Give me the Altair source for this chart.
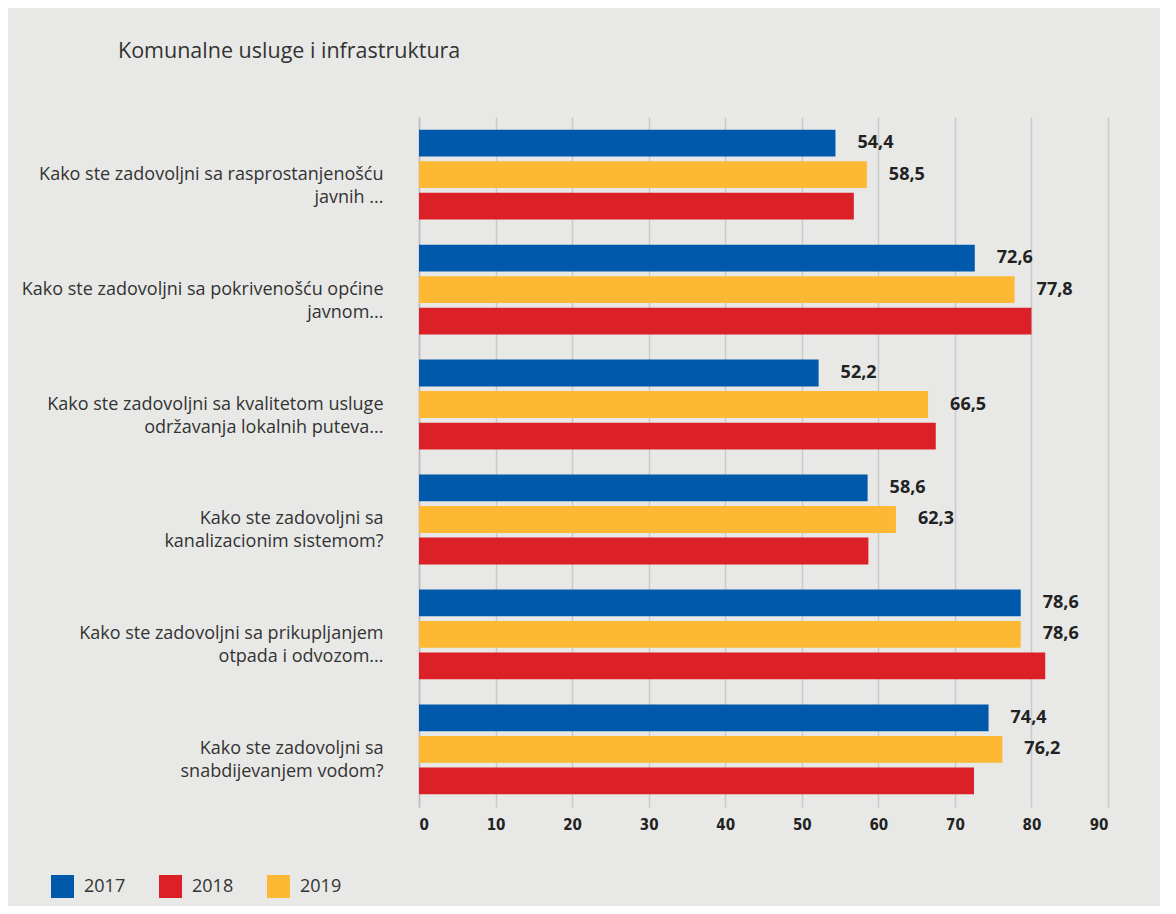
import altair as alt
import pandas as pd

questions = [
    "Kako ste zadovoljni sa rasprostanjenošću|javnih ...",
    "Kako ste zadovoljni sa pokrivenošću općine|javnom...",
    "Kako ste zadovoljni sa kvalitetom usluge|održavanja lokalnih puteva...",
    "Kako ste zadovoljni sa|kanalizacionim sistemom?",
    "Kako ste zadovoljni sa prikupljanjem|otpada i odvozom...",
    "Kako ste zadovoljni sa|snabdijevanjem vodom?",
]
years = ["2017", "2018", "2019"]
bar_order = ["2017", "2019", "2018"]
v2017 = [54.4, 72.6, 52.2, 58.6, 78.6, 74.4]
v2018 = [56.8, 80.0, 67.5, 58.7, 81.8, 72.5]
v2019 = [58.5, 77.8, 66.5, 62.3, 78.6, 76.2]
labelled_years = ["2017", "2019"]
x_ticks = [0, 10, 20, 30, 40, 50, 60, 70, 80, 90]
colors = ["#0059aa", "#dc2027", "#fdb933"]

rows = []
for q, a, b, c in zip(questions, v2017, v2018, v2019):
    rows.append({"q": q, "year": "2017", "value": a})
    rows.append({"q": q, "year": "2018", "value": b})
    rows.append({"q": q, "year": "2019", "value": c})
df = pd.DataFrame(rows)

y_enc = alt.Y(
    "q:N",
    sort=questions,
    scale=alt.Scale(paddingInner=0.219, paddingOuter=0.11),
    axis=alt.Axis(
        title=None,
        labelExpr="split(datum.label, '|')",
        labelFont="Open Sans",
        labelFontSize=18,
        labelColor="#333333",
        labelLineHeight=23,
        labelPadding=36,
        labelLimit=420,
        ticks=False,
        domain=True,
        domainColor="#bdbdbd",
        domainWidth=1.5,
        grid=False,
    ),
)
yoff = alt.YOffset(
    "year:N",
    scale=alt.Scale(domain=bar_order, paddingInner=0.15, paddingOuter=0),
)
x_enc = alt.X(
    "value:Q",
    scale=alt.Scale(domain=[0, 90], nice=False),
    axis=alt.Axis(
        values=x_ticks,
        title=None,
        grid=True,
        gridColor="#c9c9c9",
        gridWidth=1.5,
        domain=False,
        ticks=False,
        labelFont="'DejaVu Sans Condensed', 'Open Sans', sans-serif",
        labelFontWeight="bold",
        labelFontSize=15,
        labelColor="#222222",
        labelPadding=10,
    ),
)

bars = alt.Chart(df).mark_bar().encode(
    x=x_enc,
    y=y_enc,
    yOffset=yoff,
    color=alt.Color(
        "year:N",
        scale=alt.Scale(domain=years, range=colors),
        legend=alt.Legend(
            title=None,
            orient="none",
            legendX=-368,
            legendY=758,
            direction="horizontal",
            symbolType="square",
            symbolSize=529,
            symbolStrokeWidth=0,
            symbolOpacity=1,
            labelFont="Open Sans",
            labelFontSize=18,
            labelColor="#333333",
            labelOffset=10,
            columnPadding=33,
            padding=0,
        ),
    ),
)

texts = (
    alt.Chart(df)
    .transform_filter(alt.FieldOneOfPredicate(field="year", oneOf=labelled_years))
    .transform_calculate(label="replace(format(datum.value, '.1f'), '.', ',')")
    .mark_text(
        align="left",
        baseline="middle",
        dx=22,
        font="Open Sans",
        fontWeight="bold",
        fontSize=18,
        color="#222222",
    )
    .encode(x="value:Q", y=alt.Y("q:N", sort=questions), yOffset=yoff, text="label:N")
)

chart = (
    alt.layer(bars, texts)
    .properties(
        width=689,
        height=690,
        padding={"left": 411, "top": 109, "right": 52, "bottom": 99},
        autosize=alt.AutoSizeParams(type="none"),
        title=alt.TitleParams(
            "Komunalne usluge i infrastruktura",
            anchor="start",
            frame="group",
            dx=-301,
            offset=38,
            font="Open Sans",
            fontSize=21.5,
            fontWeight="normal",
            color="#333333",
            baseline="alphabetic",
        ),
    )
    .configure(background="#e8e9e6")
    .configure_view(stroke=None)
)

chart.save("out.html", embed_options={"renderer": "svg", "actions": False})
